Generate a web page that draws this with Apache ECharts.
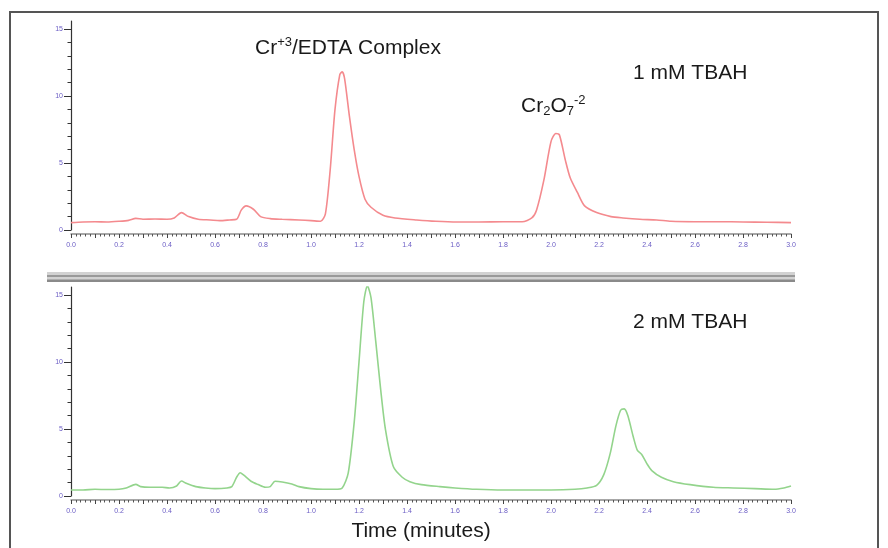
<!DOCTYPE html>
<html><head><meta charset="utf-8">
<script src="https://cdn.jsdelivr.net/npm/echarts@6/dist/echarts.min.js"></script>
<style>html,body{margin:0;padding:0;background:#fff}#c{width:888px;height:548px}</style>
</head><body><div id="c"></div>
<script>
// ---- data (time in minutes, signal) ----
const redTime = [0.00,0.05,0.10,0.15,0.20,0.24,0.27,0.30,0.35,0.40,0.43,0.46,0.49,0.53,0.58,0.62,0.66,0.69,0.71,0.73,0.76,0.79,0.83,0.88,0.95,1.00,1.04,1.06,1.08,1.10,1.12,1.13,1.14,1.16,1.18,1.20,1.225,1.25,1.30,1.35,1.44,1.52,1.61,1.70,1.80,1.88,1.92,1.94,1.97,2.00,2.02,2.035,2.06,2.08,2.11,2.14,2.19,2.25,2.30,2.37,2.44,2.50,2.60,2.70,2.80,2.90,3.00];
const redValue = [0.55,0.60,0.62,0.60,0.65,0.72,0.87,0.80,0.82,0.80,0.90,1.30,1.00,0.80,0.75,0.70,0.75,0.80,1.50,1.80,1.55,1.00,0.85,0.80,0.75,0.70,0.65,1.20,4.50,9.00,11.6,11.8,11.3,8.50,6.00,4.00,2.30,1.70,1.10,0.90,0.75,0.65,0.60,0.60,0.62,0.62,0.90,1.50,3.70,6.60,7.20,7.10,5.20,3.90,2.80,1.80,1.30,1.00,0.90,0.80,0.75,0.65,0.62,0.62,0.60,0.58,0.55];
const greenTime = [0.00,0.05,0.10,0.15,0.20,0.23,0.27,0.29,0.33,0.38,0.41,0.44,0.46,0.48,0.52,0.56,0.60,0.65,0.67,0.69,0.705,0.72,0.75,0.78,0.81,0.83,0.85,0.88,0.92,0.95,1.00,1.05,1.10,1.13,1.155,1.18,1.20,1.22,1.235,1.25,1.27,1.29,1.31,1.343,1.38,1.412,1.46,1.537,1.60,1.69,1.80,1.90,2.00,2.10,2.15,2.19,2.22,2.247,2.27,2.29,2.305,2.32,2.343,2.36,2.378,2.40,2.42,2.46,2.51,2.58,2.676,2.76,2.85,2.93,2.97,3.00];
const greenValue = [0.45,0.45,0.50,0.48,0.50,0.60,0.87,0.70,0.65,0.65,0.60,0.75,1.12,0.95,0.70,0.60,0.55,0.60,0.70,1.40,1.74,1.55,1.10,0.85,0.65,0.70,1.10,1.05,0.90,0.70,0.55,0.50,0.50,0.60,1.70,5.50,10.0,14.5,15.7,14.8,11.5,8.00,5.00,2.20,1.40,1.07,0.85,0.70,0.60,0.50,0.45,0.45,0.45,0.50,0.60,0.80,1.60,3.20,5.20,6.40,6.50,6.00,4.40,3.40,3.10,2.40,1.90,1.40,1.07,0.85,0.65,0.60,0.55,0.50,0.60,0.75];
const xLabelValues = [0.0,0.2,0.4,0.6,0.8,1.0,1.2,1.4,1.6,1.8,2.0,2.2,2.4,2.6,2.8,3.0];
const yLabelValues = [0,5,10,15];
const yMinorValues = [1,2,3,4,6,7,8,9,11,12,13,14];
const titleText = 'Time (minutes)';

const purple = '#6a5cc4';
const FONT = '"Liberation Sans", Arial, Helvetica, sans-serif';

function xAxisFor(gi) {
  return {
    type: 'value', gridIndex: gi, min: 0, max: 3, interval: 0.1, offset: 4,
    axisLine: {show: true, onZero: false, lineStyle: {color: '#8a8a8a', width: 1.5}},
    axisTick: {show: true, length: 4, lineStyle: {color: '#444', width: 1}},
    minorTick: {show: true, splitNumber: 5, length: 2.5, lineStyle: {color: '#555', width: 1}},
    axisLabel: {customValues: xLabelValues, formatter: v => v.toFixed(1), fontSize: 7, color: purple, margin: 8, fontFamily: FONT},
    splitLine: {show: false}, minorSplitLine: {show: false}
  };
}
function yMajorFor(gi) {
  return {
    type: 'value', gridIndex: gi, min: 0, max: 15.6, position: 'left',
    axisLine: {show: true, lineStyle: {color: '#333', width: 1.2}},
    axisTick: {show: true, customValues: yLabelValues, length: 7, lineStyle: {color: '#333'}},
    axisLabel: {customValues: yLabelValues, fontSize: 7, color: purple, margin: 8, fontFamily: FONT},
    splitLine: {show: false}
  };
}
function yMinorFor(gi) {
  return {
    type: 'value', gridIndex: gi, min: 0, max: 15.6, position: 'left',
    axisLine: {show: false},
    axisTick: {show: true, customValues: yMinorValues, length: 3.5, lineStyle: {color: '#333'}},
    axisLabel: {show: false},
    splitLine: {show: false}
  };
}

const chart = echarts.init(document.getElementById('c'), null, {renderer: 'canvas'});
const richStyle = {
  a: {fontSize: 21, lineHeight: 24, fontFamily: FONT, fill: '#1a1a1a', color: '#1a1a1a'},
  sup: {fontSize: 13, lineHeight: 13, verticalAlign: 'top', fontFamily: FONT, fill: '#1a1a1a', color: '#1a1a1a'},
  sub: {fontSize: 13, lineHeight: 13, verticalAlign: 'bottom', fontFamily: FONT, fill: '#1a1a1a', color: '#1a1a1a'}
};
chart.setOption({
  animation: false,
  backgroundColor: '#ffffff',
  grid: [
    {left: 71, top: 21, width: 720, height: 209},
    {left: 71, top: 287, width: 720, height: 209}
  ],
  xAxis: [xAxisFor(0), xAxisFor(1)],
  yAxis: [yMajorFor(0), yMinorFor(0), yMajorFor(1), yMinorFor(1)],
  series: [
    {type: 'line', xAxisIndex: 0, yAxisIndex: 0, showSymbol: false, smooth: 0.25,
     lineStyle: {color: '#f48a8e', width: 1.6}, data: redTime.map((t, i) => [t, redValue[i]])},
    {type: 'line', xAxisIndex: 1, yAxisIndex: 2, showSymbol: false, smooth: 0.25,
     lineStyle: {color: '#93d48c', width: 1.6}, data: greenTime.map((t, i) => [t, greenValue[i]])}
  ],
  graphic: [
    // frame
    {type: 'line', shape: {x1: 10, y1: 12, x2: 10, y2: 548}, style: {stroke: '#555', lineWidth: 2}},
    {type: 'line', shape: {x1: 9, y1: 12, x2: 879, y2: 12}, style: {stroke: '#555', lineWidth: 2}},
    {type: 'line', shape: {x1: 878, y1: 12, x2: 878, y2: 548}, style: {stroke: '#555', lineWidth: 2}},
    // separator
    {type: 'rect', shape: {x: 47, y: 272, width: 748, height: 10}, style: {fill: '#d2d2d2'}},
    {type: 'rect', shape: {x: 47, y: 275, width: 748, height: 2}, style: {fill: '#9a9a9a'}},
    {type: 'rect', shape: {x: 47, y: 279.5, width: 748, height: 2.5}, style: {fill: '#8a8a8a'}},
    // annotations
    {type: 'text', x: 255, y: 36, style: {text: '{a|Cr}{sup|+3}{a|/EDTA Complex}', rich: richStyle, fill: '#1a1a1a'}},
    {type: 'text', x: 633, y: 73, style: {text: '1 mM TBAH', font: '21px ' + FONT, fill: '#1a1a1a', verticalAlign: 'middle'}},
    {type: 'text', x: 521, y: 94, style: {text: '{a|Cr}{sub|2}{a|O}{sub|7}{sup|-2}', rich: richStyle, fill: '#1a1a1a'}},
    {type: 'text', x: 633, y: 322, style: {text: '2 mM TBAH', font: '21px ' + FONT, fill: '#1a1a1a', verticalAlign: 'middle'}},
    {type: 'text', x: 421, y: 531, style: {text: titleText, font: '21px ' + FONT, fill: '#1a1a1a', align: 'center', verticalAlign: 'middle'}}
  ]
});
</script></body></html>
